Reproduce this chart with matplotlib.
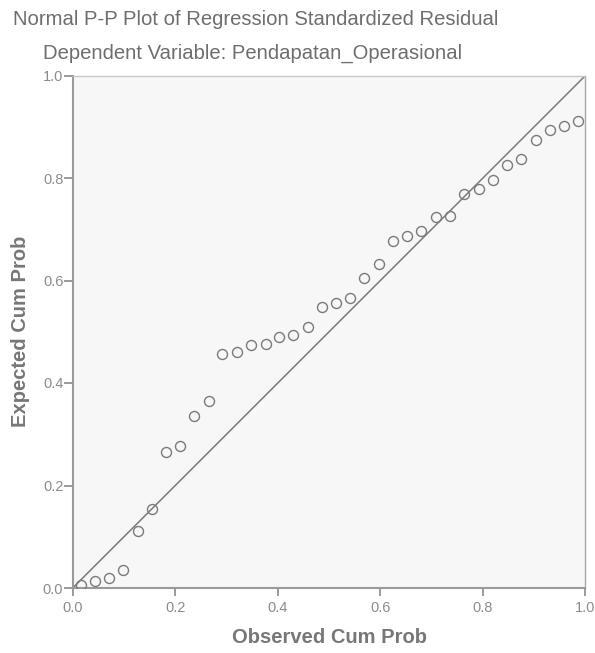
import matplotlib
matplotlib.use("Agg")
import matplotlib.pyplot as plt

observed = [0.016, 0.044, 0.071, 0.099, 0.127, 0.155, 0.182, 0.210, 0.237, 0.265,
            0.292, 0.320, 0.348, 0.376, 0.403, 0.430, 0.458, 0.486, 0.514, 0.541,
            0.569, 0.597, 0.624, 0.652, 0.680, 0.708, 0.736, 0.764, 0.792, 0.819,
            0.847, 0.875, 0.903, 0.930, 0.958, 0.986]
expected = [0.006, 0.014, 0.019, 0.036, 0.111, 0.155, 0.265, 0.278, 0.336, 0.365,
            0.456, 0.461, 0.475, 0.477, 0.489, 0.494, 0.510, 0.549, 0.557, 0.565,
            0.605, 0.632, 0.677, 0.687, 0.697, 0.724, 0.726, 0.769, 0.779, 0.796,
            0.825, 0.837, 0.874, 0.894, 0.902, 0.911]
ticks = [0.0, 0.2, 0.4, 0.6, 0.8, 1.0]
tick_labels = ["0.0", "0.2", "0.4", "0.6", "0.8", "1.0"]

plt.rcParams['font.family'] = ['Liberation Sans', 'DejaVu Sans']

W, H = 595, 653
fig = plt.figure(figsize=(W / 100, H / 100), dpi=100, facecolor='white')
x0, x1, y0, y1 = 72.7, 585.5, 75.5, 588.0
ax = fig.add_axes([x0 / W, 1 - y1 / H, (x1 - x0) / W, (y1 - y0) / H])
ax.set_facecolor('#f7f7f7')
ax.set_xlim(0, 1)
ax.set_ylim(0, 1)

ax.plot([0, 1], [0, 1], color='#7a7a7a', lw=1.1, zorder=2)
ax.plot(observed, expected, linestyle='none', marker='o', markersize=7.2,
        markerfacecolor='none', markeredgecolor='#7a7a7a', markeredgewidth=1.0, zorder=3)

ax.set_xticks(ticks)
ax.set_xticklabels(tick_labels)
ax.set_yticks(ticks)
ax.set_yticklabels(tick_labels)
ax.tick_params(axis='x', direction='out', length=5.5, width=1.2, color='#8a8a8a',
               labelcolor='#8c8c8c', labelsize=10.5, pad=4)
ax.tick_params(axis='y', direction='out', length=6.3, width=1.2, color='#8a8a8a',
               labelcolor='#8c8c8c', labelsize=10.5, pad=0.5)

for side in ['left', 'bottom']:
    ax.spines[side].set_color('#9a9a9a')
    ax.spines[side].set_linewidth(1.5)
for side in ['top', 'right']:
    ax.spines[side].set_color('#c8c8c8')
    ax.spines[side].set_linewidth(1.0)
ax.spines['right'].set_color('#a8a8a8')

ax.set_xlabel('Observed Cum Prob', fontsize=14.5, fontweight='bold', color='#777777', labelpad=9)
ax.set_ylabel('Expected Cum Prob', fontsize=14.5, fontweight='bold', color='#777777', labelpad=9)

fig.text(256 / W, 1 - 25 / H, 'Normal P-P Plot of Regression Standardized Residual',
         ha='center', va='baseline', fontsize=14.6, color='#6e6e6e')
fig.text(253 / W, 1 - 59 / H, 'Dependent Variable: Pendapatan_Operasional',
         ha='center', va='baseline', fontsize=14.6, color='#6e6e6e')

fig.savefig('out.png', dpi=100, facecolor='white')
